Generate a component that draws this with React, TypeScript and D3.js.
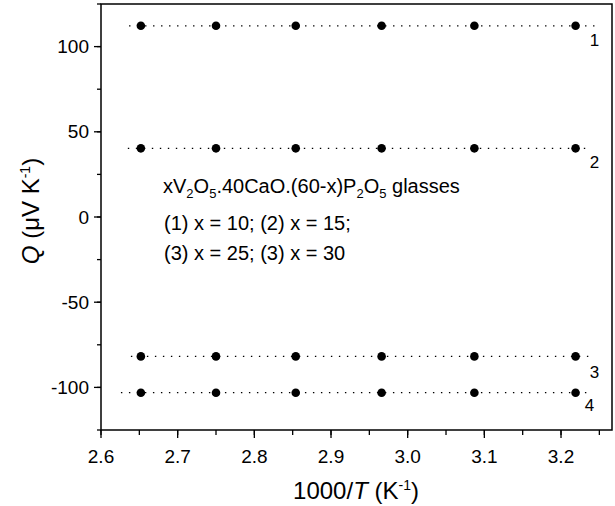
import React from "react";
import * as d3 from "d3";

const invT = [2.652, 2.75, 2.854, 2.966, 3.087, 3.219];
const seriesNames = ["1", "2", "3", "4"];
const q1 = [112.2, 112.2, 112.2, 112.2, 112.2, 112.2];
const q2 = [40.3, 40.3, 40.3, 40.3, 40.3, 40.3];
const q3 = [-81.8, -81.8, -81.8, -81.8, -81.8, -81.8];
const q4 = [-103.1, -103.1, -103.1, -103.1, -103.1, -103.1];
const fitStart = [2.6366, 2.635, 2.639, 2.626];
const fitEnd = [3.2466, 3.234, 3.24, 3.238];
const xTicks = [2.6, 2.7, 2.8, 2.9, 3.0, 3.1, 3.2];
const yTicks = [-100, -50, 0, 50, 100];

const W = 615;
const H = 506;
const FONT = "'Liberation Sans', Arial, Helvetica, sans-serif";

export default function App() {
  const x = d3.scaleLinear().domain([2.6, 3.2665]).range([101, 612]);
  const y = d3.scaleLinear().domain([-125, 125]).range([430, 4]);
  const series = [q1, q2, q3, q4];
  const xMinor = d3.range(2.6, 3.27, 0.05).filter((v) => v <= 3.2665);
  const yMinor = d3.range(-125, 126, 25);
  const line = d3
    .line<[number, number]>()
    .x((d) => x(d[0]))
    .y((d) => y(d[1]));
  const labelPos = [
    { dx: 0, dy: 20 },
    { dx: 0, dy: 20 },
    { dx: 0, dy: 22 },
    { dx: -5, dy: 18 },
  ];

  return (
    <svg
      width={W}
      height={H}
      style={{ position: "absolute", left: 0, top: 0, background: "#fff" }}
      fontFamily={FONT}
    >
      <rect x={0} y={0} width={W} height={H} fill="#fff" />
      {/* fitted dotted lines */}
      {series.map((s, i) => {
        const m = d3.mean(s) as number;
        return (
          <path
            key={"l" + i}
            d={line([
              [fitStart[i], m],
              [fitEnd[i], m],
            ]) as string}
            stroke="#000"
            strokeWidth={1.3}
            strokeDasharray="1.4 6.6"
            fill="none"
          />
        );
      })}
      {/* points */}
      {series.map((s, i) =>
        s.map((v, j) => (
          <circle key={`p${i}-${j}`} cx={x(invT[j])} cy={y(v)} r={4.3} fill="#000" />
        ))
      )}
      {/* series labels */}
      {series.map((s, i) => (
        <text
          key={"t" + i}
          x={x(s.length ? invT[invT.length - 1] : 0) + 19 + labelPos[i].dx}
          y={y(s[s.length - 1]) + labelPos[i].dy}
          fontSize={17}
          textAnchor="middle"
        >
          {seriesNames[i]}
        </text>
      ))}
      {/* frame */}
      <rect x={101} y={4} width={511} height={426} fill="none" stroke="#000" strokeWidth={1.5} />
      {/* x ticks */}
      {xMinor.map((v, i) => (
        <line key={"xm" + i} x1={x(v)} x2={x(v)} y1={430} y2={435} stroke="#000" strokeWidth={1.3} />
      ))}
      {xTicks.map((v) => (
        <g key={"x" + v}>
          <line x1={x(v)} x2={x(v)} y1={430} y2={438} stroke="#000" strokeWidth={1.3} />
          <text x={x(v)} y={463} fontSize={19} textAnchor="middle">
            {v.toFixed(1)}
          </text>
        </g>
      ))}
      {/* y ticks */}
      {yMinor.map((v) => (
        <line key={"ym" + v} x1={97} x2={101} y1={y(v)} y2={y(v)} stroke="#000" strokeWidth={1.3} />
      ))}
      {yTicks.map((v) => (
        <g key={"y" + v}>
          <line x1={94} x2={101} y1={y(v)} y2={y(v)} stroke="#000" strokeWidth={1.3} />
          <text x={89} y={y(v) + 6.5} fontSize={19} textAnchor="end">
            {v}
          </text>
        </g>
      ))}
      {/* axis titles */}
      <text x={356} y={499} fontSize={24} textAnchor="middle">
        1000/<tspan fontStyle="italic">T</tspan> (K
        <tspan dy={-9} fontSize={14}>-1</tspan>
        <tspan dy={9}>)</tspan>
      </text>
      <text transform="translate(39,211) rotate(-90)" fontSize={24} textAnchor="middle">
        <tspan fontStyle="italic">Q</tspan> (μV K
        <tspan dy={-9} fontSize={14}>-1</tspan>
        <tspan dy={9}>)</tspan>
      </text>
      {/* annotation */}
      <text x={163} y={192.5} fontSize={20}>
        xV<tspan dy={5} fontSize={13}>2</tspan>
        <tspan dy={-5}>O</tspan>
        <tspan dy={5} fontSize={13}>5</tspan>
        <tspan dy={-5}>.40CaO.(60-x)P</tspan>
        <tspan dy={5} fontSize={13}>2</tspan>
        <tspan dy={-5}>O</tspan>
        <tspan dy={5} fontSize={13}>5</tspan>
        <tspan dy={-5}> glasses</tspan>
      </text>
      <text x={164} y={230} fontSize={20}>
        (1) x = 10; (2) x = 15;
      </text>
      <text x={164} y={260} fontSize={20}>
        (3) x = 25; (3) x = 30
      </text>
    </svg>
  );
}
